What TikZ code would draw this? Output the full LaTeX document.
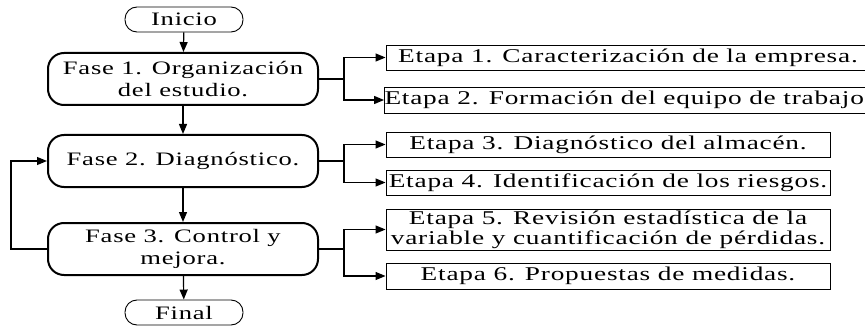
\documentclass[tikz,border=0pt]{standalone}
\usepackage{fontspec}
\setmainfont{Liberation Serif}[FakeStretch=1.4,LetterSpace=4]
\usetikzlibrary{arrows.meta}
\begin{document}
\begin{tikzpicture}[x=1pt,y=1pt,
  every node/.style={inner sep=0pt, align=center},
  term/.style={draw, line width=0.9pt, rounded corners=12pt, minimum width=118pt, minimum height=25pt, font=\fontsize{19}{21.5}\selectfont},
  fase/.style={draw, line width=2pt, rounded corners=16pt, minimum width=270pt, minimum height=52pt, font=\fontsize{19}{22}\selectfont},
  etapa/.style={draw, line width=0.9pt, minimum height=25pt, font=\fontsize{19.5}{20}\selectfont},
  arr/.style={line width=1.2pt, -{Triangle[length=10pt,width=8pt]}}]
\useasboundingbox (0,0) rectangle (865,-326);
\node[term] (ini) at (184,-19.5) {Inicio};
\node[fase] (f1) at (183,-79) {Fase 1. Organización\\del estudio.};
\node[fase] (f2) at (183,-161) {Fase 2. Diagnóstico.};
\node[fase] (f3) at (183,-249) {Fase 3. Control y\\mejora.};
\node[term] (fin) at (184,-312.5) {Final};

\node[etapa, minimum width=484pt] (e1) at (628,-57.5) {Etapa 1. Caracterización de la empresa.};
\node[etapa, minimum width=484pt, minimum height=26pt] (e2) at (628,-100) {Etapa 2. Formación del equipo de trabajo.};
\node[etapa, minimum width=444pt] (e3) at (608,-144.5) {Etapa 3. Diagnóstico del almacén.};
\node[etapa, minimum width=444pt] (e4) at (608,-182.5) {Etapa 4. Identificación de los riesgos.};
\node[etapa, minimum width=444pt, minimum height=41pt] (e5) at (608,-229.5) {Etapa 5. Revisión estadística de la\\variable y cuantificación de pérdidas.};
\node[etapa, minimum width=444pt, minimum height=26pt] (e6) at (608,-276) {Etapa 6. Propuestas de medidas.};

\draw[arr] (ini) -- (f1);
\draw[arr] (f1) -- (f2);
\draw[arr] (f2) -- (f3);
\draw[arr] (f3) -- (fin);
\draw[arr] (f3.west) -- ++(-36,0) |- (f2.west);

\draw[arr] (f1.east) -- ++(25,0) |- (e1.west);
\draw[arr] (f1.east) -- ++(25,0) |- (e2.west);
\draw[arr] (f2.east) -- ++(25,0) |- (e3.west);
\draw[arr] (f2.east) -- ++(25,0) |- (e4.west);
\draw[arr] (f3.east) -- ++(25,0) |- (e5.west);
\draw[arr] (f3.east) -- ++(25,0) |- (e6.west);
\end{tikzpicture}
\end{document}
